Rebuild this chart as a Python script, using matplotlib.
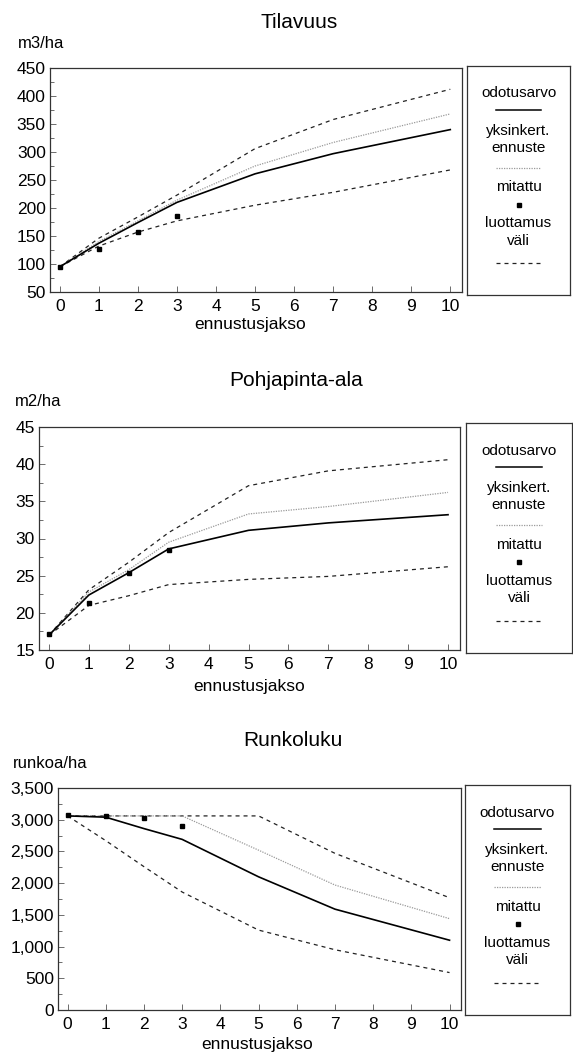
import numpy as np
import matplotlib
matplotlib.use("Agg")
import matplotlib.pyplot as plt
from matplotlib.ticker import MultipleLocator, FuncFormatter

plt.rcParams['font.family'] = ['Liberation Sans', 'DejaVu Sans']

W, H = 573, 1056

# ennustusjakso points
jakso = [0, 1, 2, 3, 5, 7, 10]
mit_jakso = [0, 1, 2, 3]

# Tilavuus, m3/ha
til_odotus = [95, 137, 174, 210, 261, 297, 340]
til_yks = [95, 140, 177, 214, 275, 317, 368]
til_ylä = [95, 146, 184, 223, 306, 358, 412]
til_ala = [95, 132, 157, 177, 205, 228, 268]
til_mit = [95, 126, 157, 186]

# Pohjapinta-ala, m2/ha
ppa_odotus = [17, 22.4, 25.4, 28.6, 31.1, 32.1, 33.2]
ppa_yks = [17, 22.8, 25.8, 29.5, 33.3, 34.3, 36.2]
ppa_ylä = [17, 23.1, 26.8, 30.8, 37.1, 39.1, 40.6]
ppa_ala = [17, 21.0, 22.3, 23.8, 24.5, 24.9, 26.2]
ppa_mit = [17.1, 21.3, 25.3, 28.4]

# Runkoluku, runkoa/ha
rl_odotus = [3060, 3040, 2860, 2690, 2100, 1590, 1100]
rl_yks = [3060, 3060, 3060, 3060, 2520, 1970, 1440]
rl_ylä = [3060, 3060, 3060, 3060, 3060, 2470, 1770]
rl_ala = [3060, 2670, 2260, 1860, 1260, 950, 590]
rl_mit = [3070, 3060, 3030, 2900]

DASH = (0, (3.2, 3.2))
DOT = (0, (1, 1))


def px_box(l, t, r, b):
    # pixel box -> figure fraction
    return [l / W, 1 - b / H, (r - l) / W, (b - t) / H]


fig = plt.figure(figsize=(W / 100, H / 100), dpi=100)


def paneeli(ax_box, leg_box, otsikko, yksikko, tit_xy, yl_xy, xl_xy,
            odotus, yks, yla, ala, mit, ylim, ystep, thousands=False):
    ax = fig.add_axes(px_box(*ax_box))
    ax.plot(jakso, yla, color='#222222', lw=0.9, ls=DASH)
    ax.plot(jakso, ala, color='#222222', lw=0.9, ls=DASH)
    ax.plot(jakso, yks, color='#9a9a9a', lw=0.9, ls=DOT)
    ax.plot(jakso, odotus, color='black', lw=1.2)
    ax.plot(mit_jakso, mit, ls='none', marker='s', ms=3, color='black')

    ax.set_xlim(-0.25, 10.3)
    ax.set_ylim(*ylim)
    ax.set_xticks(range(0, 11))
    ax.yaxis.set_major_locator(MultipleLocator(ystep))
    ax.yaxis.set_minor_locator(MultipleLocator(ystep / 2))
    if thousands:
        ax.yaxis.set_major_formatter(FuncFormatter(lambda v, p: f"{int(v):,}"))
    ax.tick_params(axis='both', which='both', direction='in', labelsize=12.5,
                   width=0.6, color='#555555')
    ax.tick_params(which='major', length=4)
    ax.tick_params(which='minor', length=3)
    ax.tick_params(axis='x', pad=5)
    ax.tick_params(axis='y', pad=3)
    for s in ax.spines.values():
        s.set_linewidth(0.9)
        s.set_color('#333333')

    fig.text(tit_xy[0] / W, 1 - tit_xy[1] / H, otsikko, ha='center', va='center',
             fontsize=15)
    fig.text(yl_xy[0] / W, 1 - yl_xy[1] / H, yksikko, ha='left', va='center',
             fontsize=12)
    fig.text(xl_xy[0] / W, 1 - xl_xy[1] / H, "ennustusjakso", ha='center',
             va='center', fontsize=12.5)

    # legend box
    lg = fig.add_axes(px_box(*leg_box))
    lg.set_xlim(0, 1)
    lg.set_ylim(0, 1)
    lg.set_xticks([])
    lg.set_yticks([])
    for s in lg.spines.values():
        s.set_linewidth(0.9)
        s.set_color('#333333')
    paikat = [0.88, 0.81, 0.68, 0.555, 0.47, 0.395, 0.275, 0.14]
    lg.text(0.5, paikat[0], "odotusarvo", ha='center', va='center', fontsize=11)
    lg.plot([0.28, 0.72], [paikat[1]] * 2, color='black', lw=1.1)
    lg.text(0.5, paikat[2], "yksinkert.\nennuste", ha='center', va='center',
            fontsize=11, linespacing=1.3)
    lg.plot([0.28, 0.72], [paikat[3]] * 2, color='#9a9a9a', lw=0.9, ls=DOT)
    lg.text(0.5, paikat[4], "mitattu", ha='center', va='center', fontsize=11)
    lg.plot([0.5], [paikat[5]], marker='s', ms=2.5, color='black')
    lg.text(0.5, paikat[6], "luottamus\nväli", ha='center', va='center',
            fontsize=11, linespacing=1.3)
    lg.plot([0.28, 0.72], [paikat[7]] * 2, color='#222222', lw=0.9, ls=DASH)
    return ax


paneeli((50, 68, 462, 292), (467, 66, 570, 295), "Tilavuus", "m3/ha",
        (299, 22), (18, 43), (250, 325),
        til_odotus, til_yks, til_ylä, til_ala, til_mit, (50, 450), 50)

paneeli((39, 427, 460, 650), (466, 423, 572, 653), "Pohjapinta-ala", "m2/ha",
        (296, 380), (15, 402), (249, 687),
        ppa_odotus, ppa_yks, ppa_ylä, ppa_ala, ppa_mit, (15, 45), 5)

paneeli((58, 788, 461, 1010), (465, 785, 570, 1015), "Runkoluku", "runkoa/ha",
        (293, 740), (13, 763), (257, 1045),
        rl_odotus, rl_yks, rl_ylä, rl_ala, rl_mit, (0, 3500), 500, thousands=True)

fig.savefig("out.png", dpi=100)
